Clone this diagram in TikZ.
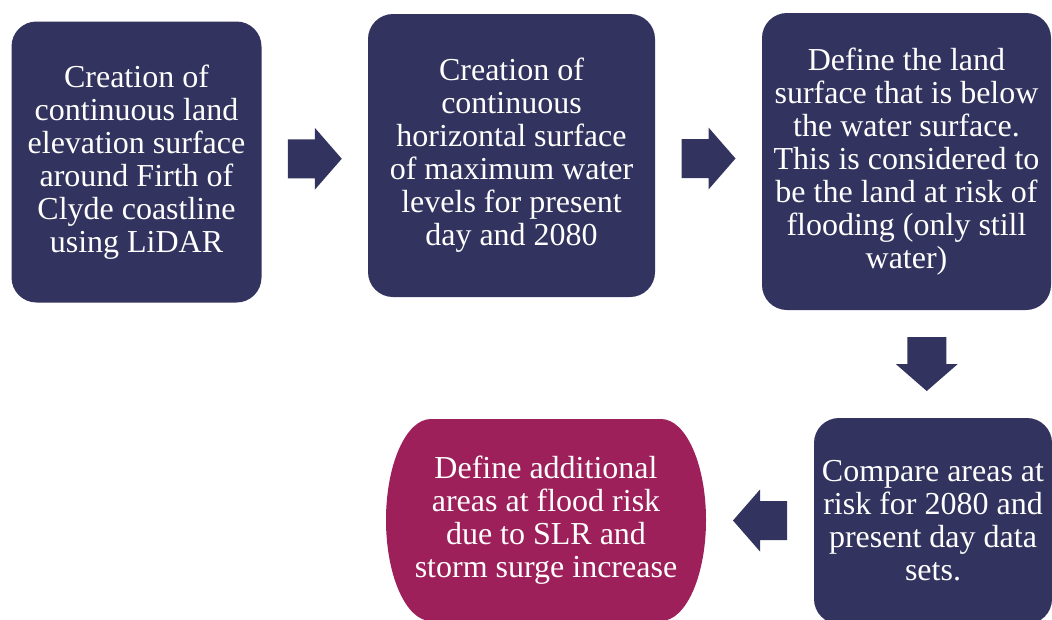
\documentclass[tikz,border=0pt]{standalone}
\usepackage{fontspec}
\setmainfont{Liberation Serif}
\usetikzlibrary{calc}
\definecolor{navy}{RGB}{50,51,94}
\definecolor{plum}{RGB}{158,32,90}
\begin{document}
\begin{tikzpicture}[x=1pt,y=-1pt,
  boxtext/.style={text=white, align=center, font=\fontsize{32}{33}\selectfont, inner sep=0pt},
  box/.style={boxtext, fill=navy, rounded corners=25pt},
  pics/blockarrow/.style={code={
    \fill[navy] (-27pt,-19.5pt) -- (0pt,-19.5pt) -- (0pt,-31pt) -- (27pt,0pt)
      -- (0pt,31pt) -- (0pt,19.5pt) -- (-27pt,19.5pt) -- cycle;}}]
\useasboundingbox (0,0) rectangle (1052,619);
\clip (0,0) rectangle (1052,619);

\node[box, minimum width=250pt, minimum height=281pt] (b1) at (136.5,162)
  {Creation of\\continuous land\\elevation surface\\around Firth of\\Clyde coastline\\using LiDAR};
\node[box, minimum width=287pt, minimum height=283pt] (b2) at (511.5,155.5)
  {Creation of\\continuous\\horizontal surface\\of maximum water\\levels for present\\day and 2080};
\node[box, minimum width=289pt, minimum height=297pt] (b3) at (906.5,161.5)
  {Define the land\\surface that is below\\the water surface.\\This is considered to\\be the land at risk of\\flooding (only still\\water)};
\node[box, minimum width=238pt, minimum height=206pt] (b4) at (933,521)
  {Compare areas at\\risk for 2080 and\\present day data\\sets.};

\node[minimum width=320pt, minimum height=202pt, inner sep=0pt] (e) at (546,520) {};
\begin{scope}[shift={(e.center)}, x=1pt, y=1pt]
  \fill[plum] (-115,101) -- (115,101)
    .. controls (139.85,101) and (160,55.8) .. (160,0)
    .. controls (160,-55.8) and (139.85,-101) .. (115,-101)
    -- (-115,-101)
    .. controls (-139.85,-101) and (-160,-55.8) .. (-160,0)
    .. controls (-160,55.8) and (-139.85,101) .. (-115,101) -- cycle;
\end{scope}
\node[boxtext] (etext) at (e.center)
  {Define additional\\areas at flood risk\\due to SLR and\\storm surge increase};

\pic at ($(b1.east)!0.5!(b2.west)$) {blockarrow};
\pic at ($(b2.east)!0.5!(b3.west)$) {blockarrow};
\pic[rotate=-90] at ($(b3.south)!0.5!(b4.north)+(7,0)$) {blockarrow};
\pic[rotate=180] at ($(e.east)!0.5!(b4.west)$) {blockarrow};
\end{tikzpicture}
\end{document}
